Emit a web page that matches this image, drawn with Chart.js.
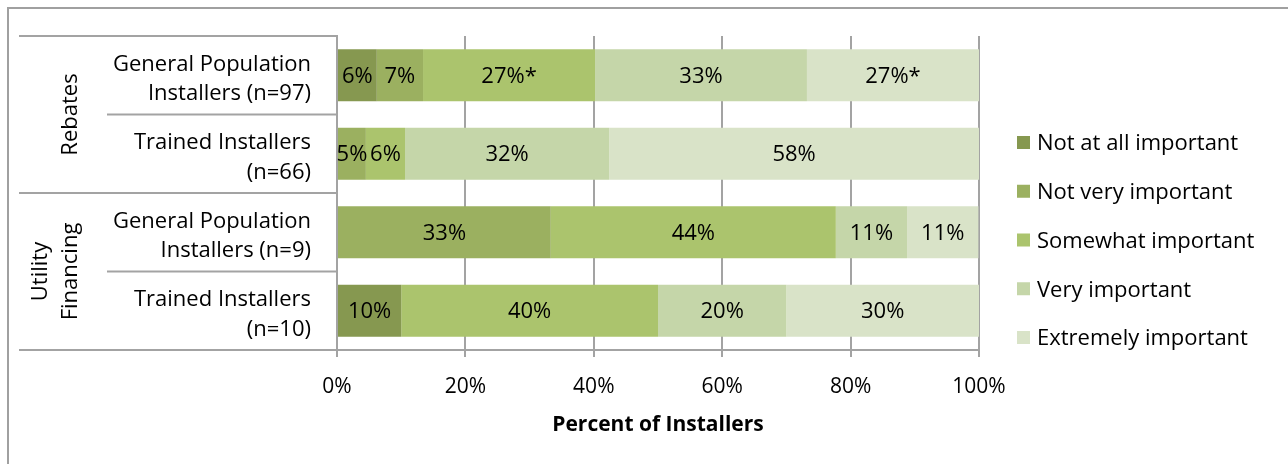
<!DOCTYPE html>
<html>
<head>
<meta charset="utf-8">
<script src="https://cdn.jsdelivr.net/npm/chart.js@4"></script>
<style>
  html, body { margin: 0; padding: 0; background: #fff; }
  #wrap { width: 1288px; height: 464px; }
</style>
</head>
<body>
<div id="wrap"><canvas id="myChart" width="1288" height="464"></canvas></div>
<script>
// rows, top to bottom
const categories = [
    ['General Population', 'Installers (n=97)'],
    ['Trained Installers', '(n=66)'],
    ['General Population', 'Installers (n=9)'],
    ['Trained Installers', '(n=10)']
];
const groups = [['Rebates'], ['Utility', 'Financing']];
const groupSizes = [2, 2];

const seriesNames = ['Not at all important', 'Not very important', 'Somewhat important', 'Very important', 'Extremely important'];
const notAtAll  = [6.2, 0, 0, 10];
const notVery   = [7.2, 4.5, 33.3, 0];
const somewhat  = [26.8, 6.1, 44.4, 40];
const veryImp   = [33.0, 31.8, 11.1, 20];
const extremely = [26.8, 57.6, 11.1, 30];
const somewhatMarks  = ['*', '', '', ''];
const extremelyMarks = ['*', '', '', ''];
const xTicks = [0, 20, 40, 60, 80, 100];

const colors = ['#869850', '#9bb060', '#abc46d', '#c5d6a9', '#d9e3c8'];
const FONT = '"Open Sans", sans-serif';
const LINE = '#a3a3a3';

const seriesData = [notAtAll, notVery, somewhat, veryImp, extremely];
const seriesMarks = [null, null, somewhatMarks, null, extremelyMarks];

const decor = {
    id: 'decor',
    beforeDraw(chart) {
        const c = chart.ctx;
        c.save();
        c.fillStyle = '#fff';
        c.fillRect(0, 0, chart.width, chart.height);
        c.strokeStyle = '#a0a0a0';
        c.lineWidth = 2;
        c.beginPath();
        c.moveTo(8, chart.height);
        c.lineTo(8, 8);
        c.lineTo(chart.width, 8);
        c.stroke();
        c.restore();
    },
    afterDraw(chart) {
        const c = chart.ctx;
        const a = chart.chartArea;
        const n = categories.length;
        const step = (a.bottom - a.top) / n;
        c.save();
        c.strokeStyle = LINE;
        c.lineWidth = 2;
        // row separators
        let idx = 0;
        const groupStarts = [0];
        groupSizes.forEach(s => { idx += s; groupStarts.push(idx); });
        for (let i = 0; i <= n; i++) {
            const yy = a.top + step * i;
            const x0 = groupStarts.includes(i) ? 19 : 107;
            c.beginPath();
            c.moveTo(x0, yy);
            c.lineTo(a.left, yy);
            c.stroke();
        }
        // group labels (rotated, last line nearest the row labels)
        c.fillStyle = '#000';
        c.font = '22px ' + FONT;
        c.textAlign = 'center';
        c.textBaseline = 'middle';
        groups.forEach((lines, g) => {
            const yTop = a.top + step * groupStarts[g];
            const yBot = a.top + step * groupStarts[g + 1];
            const cy = (yTop + yBot) / 2;
            const lh = 30;
            c.save();
            c.translate(71, cy);
            c.rotate(-Math.PI / 2);
            lines.forEach((t, k) => {
                c.fillText(t, 0, (k - (lines.length - 1)) * lh);
            });
            c.restore();
        });
        // legend
        const lx = 1017, ly0 = 144, lgap = 48.75;
        c.textAlign = 'left';
        seriesNames.forEach((name, i) => {
            const ly = ly0 + i * lgap;
            c.fillStyle = colors[i];
            c.fillRect(lx, ly - 8, 13, 13);
            c.fillStyle = '#000';
            c.fillText(name, lx + 20, ly);
        });
        c.restore();
    },
    afterDatasetsDraw(chart) {
        const c = chart.ctx;
        c.save();
        c.fillStyle = '#000';
        c.font = '22px ' + FONT;
        c.textAlign = 'center';
        c.textBaseline = 'middle';
        chart.data.datasets.forEach((ds, di) => {
            const meta = chart.getDatasetMeta(di);
            meta.data.forEach((el, i) => {
                const v = ds.data[i];
                if (!v) return;
                const marks = seriesMarks[di];
                const txt = Math.round(v) + '%' + (marks ? marks[i] : '');
                c.fillText(txt, (el.x + el.base) / 2, el.y + 1);
            });
        });
        c.restore();
    }
};

const ctx = document.getElementById('myChart').getContext('2d');
new Chart(ctx, {
    type: 'bar',
    data: {
        labels: categories,
        datasets: seriesNames.map((name, i) => ({
            label: name,
            data: seriesData[i],
            backgroundColor: colors[i],
            borderWidth: 0,
            categoryPercentage: 0.66,
            barPercentage: 1
        }))
    },
    options: {
        indexAxis: 'y',
        responsive: false,
        animation: false,
        layout: { padding: { top: 36, right: 309, left: 0, bottom: 0 } },
        plugins: {
            legend: { display: false },
            tooltip: { enabled: false }
        },
        scales: {
            x: {
                stacked: true,
                min: 0,
                max: 100,
                afterBuildTicks: (scale) => { scale.ticks = xTicks.map(v => ({ value: v })); },
                afterFit: (scale) => { scale.height = 114; scale.paddingLeft = 0; scale.paddingRight = 0; },
                ticks: {
                    callback: (v) => v + '%',
                    color: '#000',
                    font: { family: FONT, size: 21 },
                    padding: 17,
                    maxRotation: 0
                },
                grid: { color: LINE, lineWidth: 2, tickLength: 7, drawTicks: true },
                border: { display: true, color: LINE, width: 2 },
                title: {
                    display: true,
                    text: 'Percent of Installers',
                    color: '#000',
                    font: { family: FONT, size: 21, weight: 'bold' },
                    padding: { top: 0, bottom: 26 }
                }
            },
            y: {
                stacked: true,
                afterFit: (scale) => { scale.width = 337; scale.paddingTop = 0; scale.paddingBottom = 0; },
                ticks: {
                    color: '#000',
                    font: { family: FONT, size: 22, lineHeight: 1.36 },
                    padding: 26,
                    labelOffset: 4,
                    autoSkip: false
                },
                grid: { display: false, drawTicks: false },
                border: { display: true, color: LINE, width: 2 }
            }
        }
    },
    plugins: [decor]
});
</script>
</body>
</html>
